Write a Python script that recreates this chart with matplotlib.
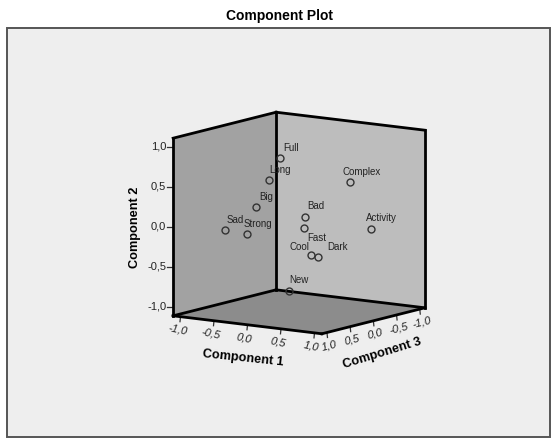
import numpy as np
import matplotlib
matplotlib.use('Agg')
import matplotlib.pyplot as plt
from matplotlib.patches import Polygon, Rectangle

plt.rcParams['font.family'] = ['Liberation Sans', 'DejaVu Sans']

# Loadings (depth is estimated)
names = ['Full', 'Long', 'Big', 'Sad', 'Strong', 'Complex', 'Bad', 'Fast',
         'Activity', 'Cool', 'Dark', 'New']
comp1 = np.array([0.10, -0.10, -0.20, -0.60, -0.30, 0.60, 0.50, 0.60, 0.80, 0.70, 0.75, 0.30])
comp2 = np.array([0.90, 0.60, 0.27, -0.04, -0.07, 0.54, 0.21, 0.11, -0.05, -0.22, -0.25, -0.725])
comp3 = np.array([0.55, 0.50, 0.64, 0.73, 0.69, -0.23, 0.59, 0.76, -0.40, 0.75, 0.67, 0.65])
ticks = [-1.0, -0.5, 0.0, 0.5, 1.0]
tick_labels = ['-1,0', '-0,5', '0,0', '0,5', '1,0']

# label offsets from the marker, pixels
label_dx = [3, 0, 3, 2, -3, -7, 2, 3, -5, -22, 9, 0]
label_dy = [10, 10, 10, 10, 10, 10, 11, -10, 11, 8, 10, 11]

# cube half size in data units
lim = 1.11


def proj(c1, c2, c3):
    # oblique view of the cube onto the picture
    c1, c2, c3 = np.asarray(c1), np.asarray(c2), np.asarray(c3)
    x = 299 + 67 * c1 - 46.4 * c3
    y = 223 + 8.1 * c1 + 11.7 * c3 - 80 * c2
    return x, y


def face(ax, corners, color):
    x, y = proj(*np.array(corners).T)
    ax.add_patch(Polygon(np.column_stack([x, y]), closed=True, fc=color, ec='none', zorder=2))


def edge(ax, a, b):
    x, y = proj(*np.array([a, b]).T)
    ax.plot(x, y, color='black', lw=2.0, solid_capstyle='projecting', zorder=3)


fig = plt.figure(figsize=(5.57, 4.42), dpi=100)
ax = fig.add_axes([0, 0, 1, 1])
ax.set_xlim(0, 557)
ax.set_ylim(442, 0)
ax.axis('off')

ax.add_patch(Rectangle((7, 28), 543, 409, fc='#eeeeee', ec='#555555', lw=1.4, zorder=1))
ax.text(279, 16, 'Component Plot', ha='center', va='center', fontsize=10, fontweight='bold')

L = lim
face(ax, [(-L, -L, L), (-L, L, L), (-L, L, -L), (-L, -L, -L)], '#a2a2a2')
face(ax, [(-L, -L, -L), (-L, L, -L), (L, L, -L), (L, -L, -L)], '#bdbdbd')
face(ax, [(-L, -L, L), (-L, -L, -L), (L, -L, -L), (L, -L, L)], '#8c8c8c')

edge(ax, (-L, -L, L), (-L, L, L))
edge(ax, (-L, L, L), (-L, L, -L))
edge(ax, (-L, L, -L), (L, L, -L))
edge(ax, (L, L, -L), (L, -L, -L))
edge(ax, (-L, L, -L), (-L, -L, -L))
edge(ax, (-L, -L, L), (-L, -L, -L))
edge(ax, (-L, -L, -L), (L, -L, -L))
edge(ax, (-L, -L, L), (L, -L, L))
edge(ax, (L, -L, L), (L, -L, -L))

# Component 2 ticks on the left edge
for t, s in zip(ticks, tick_labels):
    x, y = proj(-L, t, L)
    ax.plot([x - 6, x], [y, y], color='#333333', lw=0.9, zorder=2)
    ax.text(x - 7, y, s, ha='right', va='center', fontsize=8, color='#222222')

# Component 1 ticks on the front left edge
for t, s in zip(ticks, tick_labels):
    x, y = proj(t, -L, L)
    ax.plot([x - 0.5, x], [y + 5, y], color='#333333', lw=0.9, zorder=2)
    ax.text(x - 3, y + 13, s, ha='center', va='center', fontsize=8, style='italic',
            rotation=-12, color='#222222')

# Component 3 ticks on the front right edge
for t, s in zip(ticks, tick_labels):
    x, y = proj(L, -L, t)
    ax.plot([x + 0.5, x], [y + 5, y], color='#333333', lw=0.9, zorder=2)
    ax.text(x + 2, y + 13, s, ha='center', va='center', fontsize=8, style='italic',
            rotation=14, color='#222222')

ax.text(135, 227, 'Component 2', rotation=90, ha='center', va='center', fontsize=9.2, fontweight='bold')
ax.text(243, 358, 'Component 1', rotation=-6, ha='center', va='center', fontsize=9.2, fontweight='bold')
ax.text(382, 353, 'Component 3', rotation=17, ha='center', va='center', fontsize=9.2, fontweight='bold')

# points and their labels
px, py = proj(comp1, comp2, comp3)
ax.plot(px, py, 'o', mfc='none', mec='#333333', mew=1.0, ms=5, zorder=5)
for name, x, y, dx, dy in zip(names, px, py, label_dx, label_dy):
    ax.annotate(name, (x, y), xytext=(dx, dy), textcoords='offset pixels',
                ha='left', va='center', fontsize=7, color='#222222', zorder=6)

fig.savefig('out.png', dpi=100, facecolor='white')
